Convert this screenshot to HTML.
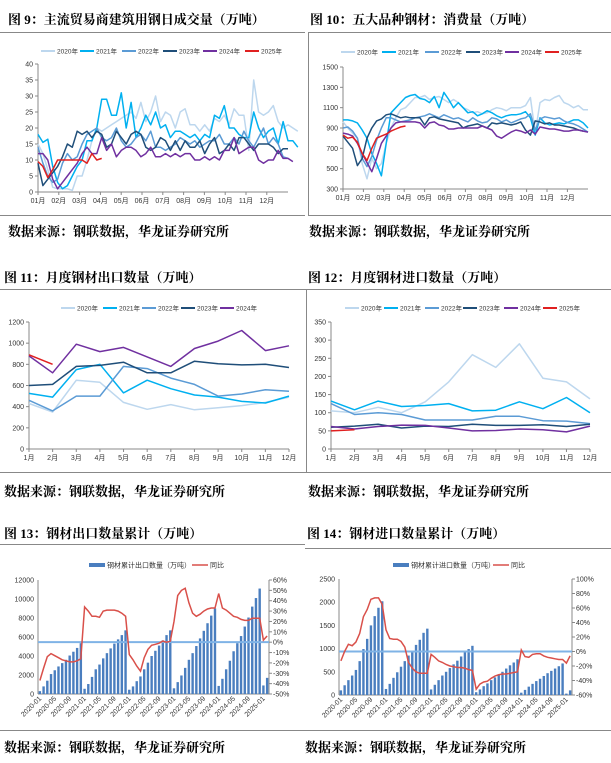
<!DOCTYPE html>
<html><head><meta charset="utf-8">
<style>
body{margin:0;width:611px;height:763px;background:#fff;position:relative;overflow:hidden;font-family:"Liberation Sans","Noto Sans CJK SC",sans-serif;}
.t{position:absolute;font-family:"Liberation Serif","Noto Serif CJK SC",serif;font-weight:bold;font-size:13px;color:#000;white-space:nowrap;}
.hl{position:absolute;height:1px;background:#888;}
.vl{position:absolute;width:1px;background:#888;}
svg{position:absolute;left:0;top:0;}
svg text{font-family:"Liberation Sans","Noto Sans CJK SC",sans-serif;fill:#333;}
</style></head><body>
<div class="t" style="left:8px;top:9px">图 9：主流贸易商建筑用钢日成交量（万吨）</div>
<div class="t" style="left:310px;top:9px">图 10：五大品种钢材：消费量（万吨）</div>
<div class="t" style="left:4px;top:267px">图 11：月度钢材出口数量（万吨）</div>
<div class="t" style="left:308px;top:267px">图 12：月度钢材进口数量（万吨）</div>
<div class="t" style="left:4px;top:523px">图 13：钢材出口数量累计（万吨）</div>
<div class="t" style="left:307px;top:523px">图 14：钢材进口数量累计（万吨）</div>
<div class="hl" style="left:0;top:32px;width:305px"></div>
<div class="hl" style="left:308px;top:32px;width:303px"></div>
<div class="vl" style="left:308px;top:32px;height:183px"></div>
<div class="hl" style="left:0;top:215px;width:305px"></div>
<div class="hl" style="left:308px;top:215px;width:303px"></div>
<div class="hl" style="left:0;top:289px;width:611px"></div>
<div class="vl" style="left:306px;top:289px;height:183px"></div>
<div class="hl" style="left:0;top:472px;width:611px"></div>
<div class="hl" style="left:0;top:544px;width:305px"></div>
<div class="hl" style="left:305px;top:548px;width:306px"></div>
<div class="hl" style="left:0;top:730px;width:611px"></div>
<div class="t" style="left:8px;top:221px">数据来源：钢联数据，华龙证券研究所</div>
<div class="t" style="left:309px;top:221px">数据来源：钢联数据，华龙证券研究所</div>
<div class="t" style="left:4px;top:481px">数据来源：钢联数据，华龙证券研究所</div>
<div class="t" style="left:308px;top:481px">数据来源：钢联数据，华龙证券研究所</div>
<div class="t" style="left:4px;top:737px">数据来源：钢联数据，华龙证券研究所</div>
<div class="t" style="left:305px;top:737px">数据来源：钢联数据，华龙证券研究所</div>
<svg id="s" width="611" height="763"></svg>
<script>
// ---- data ----
const yearNames=["2020年","2021年","2022年","2023年","2024年","2025年"];
const yearColors=["#bdd7ee","#00b0f0","#5b9bd5","#1f4e79","#7030a0","#e02020"];
const weekMonthLabels=["01月","02月","03月","04月","05月","06月","07月","08月","09月","10月","11月","12月"];
const f9y2020=[15,12,7,1.5,1,1,1,0.5,5,5,10,16,20,19,20,21,22,23,24,25,23,28,22,25,30,22,25,24,20,25,26,21,21,19,21,19,23,22,24,21,26,24,24,13,35,25,24,25,27,22,20,21,20,19];
const f9y2021=[18,15.5,16.5,8,3,1,2,5,8,10,16,16,20,29,29,24,24,31,20,28,17,20,24,21,25,20,21,17,19,19,18,17,18,16,18,17,24,23,27,20,20,18,17,17,25,20,17,19,20,15,22,16,16,14];
const f9y2022=[14,9,5,3,4,9,12,10,11,15,18,19,20,17,16,17,20,16,14,15,17,18,16,19,14,14,13,14,15,17,16,15,16,14,15,16,16,18,15,15,17,15,19,16,14,17,20,15,17,15,11,10.5];
const f9y2023=[9,2,4,6,8,11,15,14,19,18,19,17,19,18,14,15,19,17,15,18,19,18,14,13,14,17,16,13,16,13,16,14,14,16,12,15,17,12,13,15,13,17,17,15,13,15,15,15,14,12,13.5,13.5];
const f9y2024=[12,12,10,4,1,3,5,7,9,12,14,12,12,17,13,15,11,13,14,14,13,11,12,14,11,11,12,11,12,11,12,12,10,10,11,10,11,10,13,13,17,12,13,14,14,10,9,10,10,13,10.5,10.5,9.5];
const f9y2025=[9.5,8,4.5,7,10,10,10,10,10,10,9,12,10,10.5];
const f10y2020=[960,900,850,800,550,400,600,500,550,750,900,1000,1080,1100,1150,1200,1200,1220,1180,1200,1210,1180,1150,1180,1150,1100,1080,1050,1060,1040,1050,1080,1100,1090,1070,1100,1100,1100,1120,1200,850,1150,1180,1170,1200,1220,1150,1130,1100,1120,1080,1080];
const f10y2021=[980,980,970,950,880,800,650,550,430,750,1050,1100,1150,1200,1220,1230,1190,1180,1150,1210,1100,1250,1180,1100,1150,1100,1050,1060,1020,1040,1070,1050,1020,1000,1020,1030,1030,1040,1060,1000,830,1000,950,930,940,950,940,960,980,980,950,900];
const f10y2022=[900,910,870,800,600,520,620,780,900,1000,1000,980,960,970,980,1000,1010,1020,1040,1020,1000,1030,1010,990,1000,980,960,1000,970,950,960,1000,990,960,980,950,970,990,1000,1040,880,990,1010,1000,990,1000,970,950,940,920,890,860];
const f10y2023=[820,760,700,530,600,800,900,970,990,1030,1040,1020,1000,1010,1000,1000,1000,930,1000,1010,990,980,970,960,950,900,920,930,940,920,900,950,940,950,940,930,940,960,880,830,970,960,940,950,930,930,920,910,900,880,870];
const f10y2024=[850,840,820,750,650,560,470,600,750,820,900,950,960,960,960,960,950,900,950,960,930,920,890,890,900,900,900,900,900,920,900,880,820,800,830,860,880,870,850,880,840,910,900,890,890,880,870,870,880,880,870,860];
const f10y2025=[830,800,810,760,650,580,700,800,820,840,870,890,910,920];
const monthLabels=["1月","2月","3月","4月","5月","6月","7月","8月","9月","10月","11月","12月"];
const f11y2020=[430,350,650,630,440,375,420,370,390,410,440,490];
const f11y2021=[525,490,750,800,530,650,570,510,490,450,435,500];
const f11y2022=[460,360,500,500,780,760,670,610,500,520,560,545];
const f11y2023=[600,610,780,790,820,720,720,830,805,795,800,770];
const f11y2024=[880,720,990,920,960,870,780,950,1020,1120,930,975];
const f11y2025=[890,800];
const f12y2020=[105,100,115,100,130,185,260,225,290,195,185,138];
const f12y2021=[132,108,132,117,120,125,105,107,130,111,142,100];
const f12y2022=[125,95,100,95,80,80,80,90,90,78,77,70];
const f12y2023=[60,63,68,58,63,62,68,65,65,67,62,68];
const f12y2024=[62,55,62,66,65,58,50,51,55,53,47,63];
const f12y2025=[50,53];
const cumLabels=["2020-01","2020-05","2020-09","2021-01","2021-05","2021-09","2022-01","2022-05","2022-09","2023-01","2023-05","2023-09","2024-01","2024-05","2024-09","2025-01"];
const expCum=[300,800,1400,2100,2500,2900,3250,3600,4050,4450,4850,5350,550,1050,1800,2600,3100,3750,4300,4800,5300,5750,6200,6700,450,800,1350,1850,2600,3300,4000,4550,5100,5650,6200,6700,600,1250,1950,2750,3600,4300,5050,5850,6650,7450,8250,9000,850,1600,2600,3500,4500,5350,6100,7100,8050,9200,10100,11100,900,1700];
const expYoy=[-37,-25,-14,-11,-13,-15,-17,-18,-19,-19,-18,-16,34,30,25,25,24,30,31,31,31,30,28,25,-12,-17,-23,-28,-15,-7,-3,-2,-1,1,0,1,20,45,50,52,38,28,25,27,30,32,33,33,47,33,31,28,25,24,22,21,21,23,23,23,2,6];
const impCum=[100,210,320,420,540,730,990,1210,1500,1700,1880,2020,130,240,370,490,610,730,850,950,1080,1190,1340,1430,120,220,320,420,500,580,660,740,830,920,990,1060,60,120,190,250,320,380,440,500,570,640,700,770,50,110,180,240,300,350,410,470,520,570,620,680,30,100];
const impYoy=[-13,0,10,8,13,25,48,58,72,74,74,65,30,18,17,17,14,6,-15,-23,-28,-30,-30,-30,-4,-8,-13,-15,-18,-20,-21,-22,-22,-23,-25,-26,-52,-45,-42,-41,-37,-34,-32,-31,-31,-30,-29,-28,2,-7,-8,-4,-3,-3,-6,-8,-9,-10,-11,-11,-16,-6];

const NS="http://www.w3.org/2000/svg";
const S=document.getElementById('s');
function el(tag,attrs,parent){const e=document.createElementNS(NS,tag);for(const k in attrs)e.setAttribute(k,attrs[k]);(parent||S).appendChild(e);return e;}
function txt(x,y,s,size,anchor,parent){const t=el('text',{x:x,y:y,'font-size':size,'text-anchor':anchor||'start'},parent);t.textContent=s;return t;}

function lineChart(name,cfg,series,legendX,legendY){
  const g=el('g',{});
  
  
  const sy=v=>cfg.y0-(v-cfg.min)/(cfg.max-cfg.min)*(cfg.y0-cfg.y1);
  const sx=i=>cfg.x0+i*(cfg.x1-cfg.x0)/(cfg.n-1);
  el('line',{x1:cfg.x0,y1:cfg.y1,x2:cfg.x0,y2:cfg.y0,stroke:'#888','stroke-width':1},g);
  el('line',{x1:cfg.x0,y1:cfg.y0,x2:cfg.x1,y2:cfg.y0,stroke:'#888','stroke-width':1},g);
  for(let v=cfg.min;v<=cfg.max+1e-9;v+=cfg.step){
    el('line',{x1:cfg.x0-3,y1:sy(v),x2:cfg.x0,y2:sy(v),stroke:'#888'},g);
    const tk=txt(cfg.x0-5,sy(v)+2.5,String(v),7,'end',g);
    
  }
  cfg.labels.forEach((l,k)=>{
    const x=cfg.labelPos(k);
    el('line',{x1:x,y1:cfg.y0,x2:x,y2:cfg.y0+3,stroke:'#888'},g);
    const tk=txt(x,cfg.y0+11,l,7,'middle',g);
    
  });
  series.forEach((s,k)=>{
    const pts=s.data.map((v,i)=>sx(i).toFixed(1)+','+sy(v).toFixed(1)).join(' ');
    const p=el('polyline',{points:pts,fill:'none',stroke:yearColors[k],'stroke-width':1.5,'stroke-linejoin':'round'},g);
    
    
  });
  series.forEach((s,k)=>{
    const lx=legendX[k];
    if(lx===undefined) return;
    const lg=el('g',{},g);
    
    
    el('line',{x1:lx,y1:legendY,x2:lx+14,y2:legendY,stroke:yearColors[k],'stroke-width':2},lg);
    txt(lx+16,legendY+2.3,yearNames[k],6.5,'start',lg).setAttribute('fill','#555');
  });
}
lineChart('fig9-chart',{x0:38,x1:288,y0:192,y1:64,min:0,max:40,step:5,n:52,labels:weekMonthLabels,labelPos:k=>38+k*20.8},
  [{data:f9y2020},{data:f9y2021},{data:f9y2022},{data:f9y2023},{data:f9y2024},{data:f9y2025}],[41,80,122,163,203,245],51);
lineChart('fig10-chart',{x0:343,x1:588,y0:189,y1:67,min:300,max:1500,step:200,n:52,labels:weekMonthLabels,labelPos:k=>343+k*20.4},
  [{data:f10y2020},{data:f10y2021},{data:f10y2022},{data:f10y2023},{data:f10y2024},{data:f10y2025}],[341,382,425,466,505,545],52);
lineChart('fig11-chart',{x0:29,x1:289,y0:449,y1:322,min:0,max:1200,step:200,n:12,labels:monthLabels,labelPos:k=>29+k*260/11},
  [{data:f11y2020},{data:f11y2021},{data:f11y2022},{data:f11y2023},{data:f11y2024},{data:f11y2025}],[61,103,142,181,220],308);
lineChart('fig12-chart',{x0:331,x1:590,y0:449,y1:322,min:0,max:350,step:50,n:12,labels:monthLabels,labelPos:k=>331+k*259/11},
  [{data:f12y2020},{data:f12y2021},{data:f12y2022},{data:f12y2023},{data:f12y2024},{data:f12y2025}],[345,384,425,463,504,543],308);

function barChart(name,cfg,bars,yoy,legendText,lgx){
  const g=el('g',{});
  
  
  const sy=v=>cfg.y0-v/cfg.max*(cfg.y0-cfg.y1);
  const sr=v=>cfg.y0-(v-cfg.rmin)/(cfg.rmax-cfg.rmin)*(cfg.y0-cfg.y1);
  const n=bars.length, w=(cfg.x1-cfg.x0)/n;
  const sx=i=>cfg.x0+(i+0.5)*w;
  el('line',{x1:cfg.x0,y1:cfg.y1,x2:cfg.x0,y2:cfg.y0,stroke:'#888'},g);
  el('line',{x1:cfg.x1,y1:cfg.y1,x2:cfg.x1,y2:cfg.y0,stroke:'#888'},g);
  el('line',{x1:cfg.x0,y1:cfg.y0,x2:cfg.x1,y2:cfg.y0,stroke:'#888'},g);
  for(let v=0;v<=cfg.max;v+=cfg.step){txt(cfg.x0-4,sy(v)+2.5,String(v),7,'end',g);}
  for(let v=cfg.rmin;v<=cfg.rmax;v+=cfg.rstep){el('line',{x1:cfg.x1,y1:sr(v),x2:cfg.x1+3,y2:sr(v),stroke:'#888'},g);txt(cfg.x1+4,sr(v)+2.5,v+'%',7,'start',g);}
  bars.forEach((v,i)=>{
    const r=el('rect',{x:sx(i)-1.2,y:sy(v),width:2.4,height:cfg.y0-sy(v),fill:'#4a7ebf'},g);
    
    
  });
  const zl=el('line',{x1:cfg.x0,y1:sr(0),x2:cfg.x1,y2:sr(0),stroke:'#7fb3e6','stroke-width':2},g);
  
  const pl=el('polyline',{points:yoy.map((v,i)=>sx(i).toFixed(1)+','+sr(v).toFixed(1)).join(' '),fill:'none',stroke:'#d9504a','stroke-width':1.5},g);
  
  cumLabels.forEach((l,k)=>{
    const x=sx(k*4);
    const t=txt(0,0,l,7,'end',g);
    t.setAttribute('transform','translate('+(x+2)+','+(cfg.y0+5)+') rotate(-45)');
    
  });
  const lg=el('g',{},g);
  
  
  el('rect',{x:lgx[0],y:cfg.ly-2,width:16,height:4,fill:'#4a7ebf'},lg);
  txt(lgx[0]+18,cfg.ly+2.5,legendText,7,'start',lg).setAttribute('fill','#555');
  el('line',{x1:lgx[1],y1:cfg.ly,x2:lgx[1]+16,y2:cfg.ly,stroke:'#d9504a','stroke-width':1.5},lg);
  txt(lgx[1]+18,cfg.ly+2.5,'同比',7,'start',lg).setAttribute('fill','#555');
}
barChart('fig13-chart',{x0:38,x1:269,y0:694,y1:580,max:12000,step:2000,rmin:-50,rmax:60,rstep:10,ly:565},expCum,expYoy,'钢材累计出口数量（万吨）',[89,192]);
barChart('fig14-chart',{x0:339,x1:572,y0:695,y1:579,max:2500,step:500,rmin:-60,rmax:100,rstep:20,ly:565},impCum,impYoy,'钢材累计进口数量（万吨）',[393,493]);
</script>
</body></html>
